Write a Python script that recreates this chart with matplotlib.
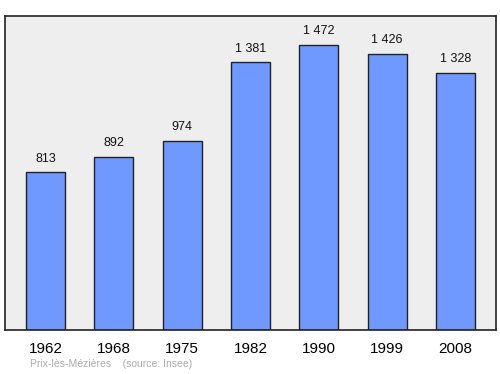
import matplotlib.pyplot as plt

plt.rcParams["font.family"] = ["Liberation Sans", "DejaVu Sans"]

years = ["1962", "1968", "1975", "1982", "1990", "1999", "2008"]
population = [813, 892, 974, 1381, 1472, 1426, 1328]
labels = ["813", "892", "974", "1 381", "1 472", "1 426", "1 328"]

fig = plt.figure(figsize=(5, 3.74), dpi=100)
ax = fig.add_axes([0.01, 0.118, 0.982, 0.840])
ax.set_facecolor("#eeeeee")

x = range(len(years))
ax.bar(x, population, width=0.57, color="#7099ff", edgecolor="#222222", linewidth=1)

for i, (v, t) in enumerate(zip(population, labels)):
    ax.text(i, v + 40, t, ha="center", va="bottom", fontsize=9, color="#111111")

ax.set_xlim(-0.593, 6.593)
ax.set_ylim(0, 1622)
ax.set_yticks([])
ax.set_xticks(list(x))
ax.set_xticklabels(years, fontsize=11)
ax.tick_params(axis="x", length=0, pad=9)
for s in ax.spines.values():
    s.set_color("#222222")
    s.set_linewidth(1.2)

fig.text(0.06, 0.018, "Prix-lès-Mézières    (source: Insee)", fontsize=7.5, color="#aaaaaa")

fig.savefig("out.png", dpi=100)
